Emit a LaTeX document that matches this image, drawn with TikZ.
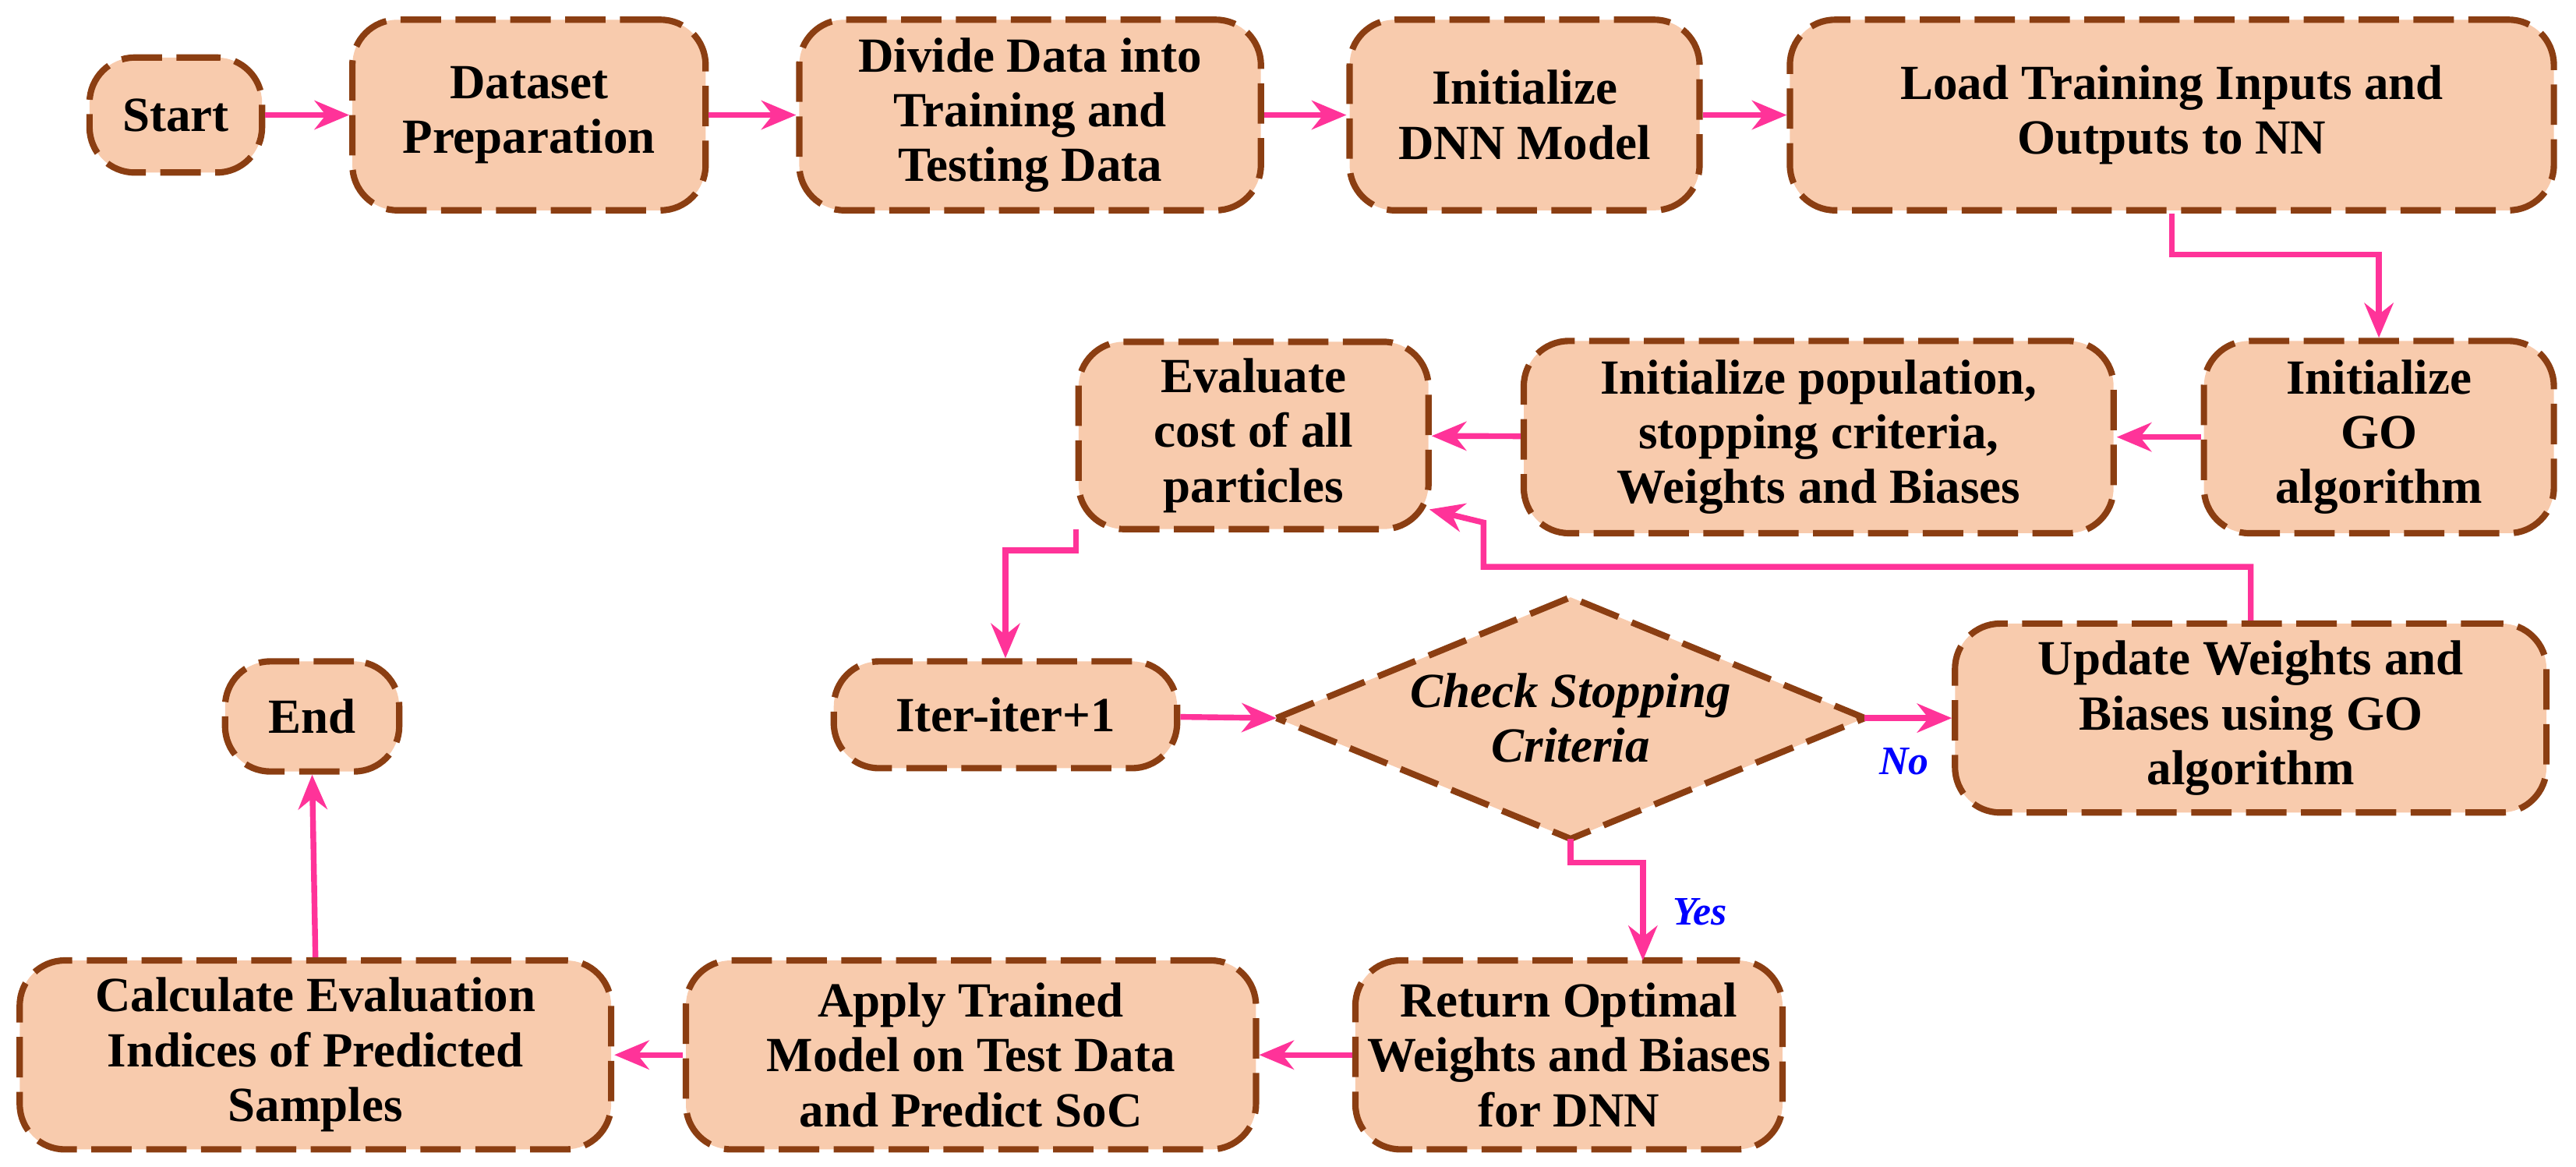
\documentclass[tikz,border=0pt]{standalone}
\usepackage{fontspec}
\setmainfont{Liberation Serif}
\usetikzlibrary{arrows.meta}
\definecolor{BoxFill}{HTML}{F8CBAD}
\definecolor{BoxLine}{HTML}{8B3E12}
\definecolor{FlowPink}{HTML}{FF3399}
\tikzset{
    stage/.style={rectangle, rounded corners=0.55cm, draw=BoxLine, fill=BoxFill,
                line width=2.2pt, dash pattern=on 14pt off 5pt, align=center,
                font=\fontsize{17}{19}\selectfont\bfseries, inner sep=0},
    checkline/.style={draw=BoxLine, fill=BoxFill, line width=2.2pt,
                dash pattern=on 14pt off 5pt},
    check/.style={align=center, inner sep=0,
                font=\fontsize{17}{19}\selectfont\bfseries\itshape},
    flow/.style={draw=FlowPink, line width=2pt, -{Stealth[length=12pt,width=10pt]}},
    answer/.style={text=blue, font=\fontsize{14}{16}\selectfont\bfseries\itshape},
}
\begin{document}
\begin{tikzpicture}
    \useasboundingbox (0,0) rectangle (31.36,-14.2);
    % First line
    \node[stage, minimum width=2.1cm, minimum height=1.4cm] (start) at (2.14,-1.4) {Start};
    \node[stage, minimum width=4.3cm, minimum height=2.32cm] (prep) at (6.44,-1.4) {Dataset\\Preparation};
    \node[stage, minimum width=5.62cm, minimum height=2.32cm] (divide) at (12.54,-1.4) {Divide Data into\\Training and\\Testing Data};
    \node[stage, minimum width=4.26cm, minimum height=2.32cm] (dnn) at (18.56,-1.4) {Initialize\\DNN Model};
    \node[stage, minimum width=9.3cm, minimum height=2.32cm] (load) at (26.44,-1.4) {Load Training Inputs and\\Outputs to NN};
    %
    % Second line
    \node[stage, minimum width=4.26cm, minimum height=2.34cm] (initgo) at (28.96,-5.32) {Initialize\\GO\\algorithm};
    \node[stage, minimum width=7.18cm, minimum height=2.34cm] (popul) at (22.14,-5.32) {Initialize population,\\stopping criteria,\\Weights and Biases};
    \node[stage, minimum width=4.26cm, minimum height=2.28cm] (evalc) at (15.26,-5.3) {Evaluate\\cost of all\\particles};
    %
    % Third line
    \node[stage, minimum width=4.18cm, minimum height=1.3cm] (iter) at (12.24,-8.7) {Iter-iter+1};
    \coordinate (stopW) at (15.54,-8.74);
    \coordinate (stopE) at (22.7,-8.74);
    \coordinate (stopN) at (19.12,-7.27);
    \coordinate (stopS) at (19.12,-10.21);
    \draw[checkline] (stopW) -- (stopN) -- (stopE) -- (stopS) -- cycle;
    \node[check] (stop) at (19.12,-8.74) {Check Stopping\\Criteria};
    \node[stage, minimum width=7.2cm, minimum height=2.3cm] (update) at (27.4,-8.74) {Update Weights and\\Biases using GO\\algorithm};
    \node[stage, minimum width=2.12cm, minimum height=1.34cm] (finish) at (3.8,-8.72) {End};
    %
    % Fourth line
    \node[stage, minimum width=5.2cm, minimum height=2.3cm] (optim) at (19.1,-12.84) {Return Optimal\\Weights and Biases\\for DNN};
    \node[stage, minimum width=6.94cm, minimum height=2.3cm] (apply) at (11.82,-12.84) {Apply Trained\\Model on Test Data\\and Predict SoC};
    \node[stage, minimum width=7.2cm, minimum height=2.3cm] (calc) at (3.84,-12.84) {Calculate Evaluation\\Indices of Predicted\\Samples};
    %
    % Connectors
    \draw[flow] (start) -- (prep);
    \draw[flow] (prep) -- (divide);
    \draw[flow] (divide) -- (dnn);
    \draw[flow] (dnn) -- (load);
    \coordinate (loadturn) at (26.44,-3.1);
    \draw[flow] (load.south) -- (loadturn) -| (initgo.north);
    \draw[flow] (initgo) -- (popul);
    \draw[flow] (popul) -- (evalc);
    \coordinate (backturn) at (18.06,-6.9);
    \coordinate (backin) at (17.4,-6.2);
    \draw[flow] (update.north) |- (backturn) -- (18.06,-6.36) -- (backin);
    \coordinate (evalout) at (13.1,-6.44);
    \coordinate (evalturn) at (13.1,-6.7);
    \draw[flow] (evalout) -- (evalturn) -| (iter.north);
    \draw[flow] (iter) -- (stopW);
    \draw[flow] (stopE) -- (update) node[answer, pos=0.45, below=6pt] {No};
    \coordinate (yesturn) at (19.12,-10.5);
    \coordinate (yesin) at (20,-11.69);
    \draw[flow] (stopS) -- (yesturn) -| (yesin)
        node[answer, pos=0.75, right=6pt] {Yes};
    \draw[flow] (optim) -- (apply);
    \draw[flow] (apply) -- (calc);
    \draw[flow] (calc.north) -- (finish.south);
\end{tikzpicture}
\end{document}
